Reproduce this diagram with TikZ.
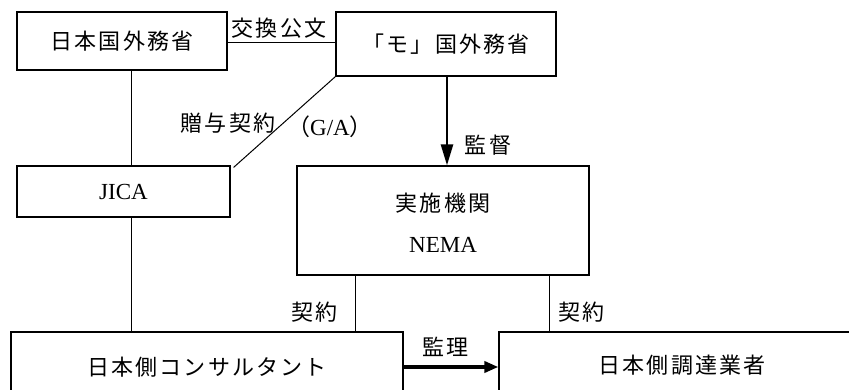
\documentclass[tikz,border=0pt]{standalone}
\usepackage{fontspec}
\setmainfont{Liberation Serif}
\newfontfamily\jp{Noto Sans CJK JP}[LetterSpace=10]
\usetikzlibrary{arrows.meta}
\begin{document}
\begin{tikzpicture}[x=1pt,y=-1pt,
  box/.style={draw, line width=1.2pt, inner sep=0pt, anchor=center},
  jt/.style={font=\jp\fontsize{22}{26}\selectfont, inner sep=0pt},
  lt/.style={font=\fontsize{23}{27}\selectfont, inner sep=0pt},
  conn/.style={line width=1pt},
  ]
\useasboundingbox (0,0) rectangle (849,390);

\node[box, jt, minimum width=210, minimum height=58] (mofaj) at (122,41) {日本国外務省};
\node[box, jt, minimum width=220, minimum height=64] (mofam) at (446,44) {「モ」国外務省};
\node[box, lt, minimum width=213, minimum height=51] (jica) at (123.5,191.5) {JICA};
\node[box, minimum width=292, minimum height=109] (nema) at (443,220.5) {};
\node[jt] (nemajp) at (443,203) {実施機関};
\node[lt] (nemaen) at (443,245) {NEMA};
\node[box, jt, minimum width=392, minimum height=70] (cons) at (207,367) {日本側コンサルタント};
\node[box, jt, minimum width=366, minimum height=66] (proc) at (682,365) {日本側調達業者};

\coordinate (xa) at (131,0);
\coordinate (xb) at (447,0);
\coordinate (xc) at (355,0);
\coordinate (xd) at (549,0);

\draw[conn] ([yshift=-2pt]mofaj.east) -- ([yshift=-2pt]mofaj.east -| mofam.west);
\draw[conn] (mofaj.south -| xa) -- (jica.north -| xa);
\draw[conn] (jica.south -| xa) -- (cons.north -| xa);
\draw[conn] (mofam.south west) -- ([xshift=3pt,yshift=-2pt]jica.north east);
\draw[line width=2.5pt, -{Triangle[length=21pt,width=12pt]}] (mofam.south -| xb) -- (nema.north -| xb);
\draw[conn] (nema.south -| xc) -- (cons.north -| xc);
\draw[conn] (nema.south -| xd) -- (proc.north -| xd);
\draw[line width=3.5pt, -{Triangle[length=14pt,width=11pt]}] (cons.east) -- (cons.east -| proc.west);

\node[jt] (lbl1) at (279,28) {交換公文};
\node[jt] (lbl2) at (488,145) {監督};
\node[jt] (lbl3) at (314.5,312) {契約};
\node[jt] (lbl4) at (581.5,312) {契約};
\node[jt] (lbl5) at (445.5,347) {監理};
\node[jt] (lbl6) at (228,123) {贈与契約};
\node[lt] (lbl7) at (330,127) {{\jp （}G/A{\jp ）}};
\end{tikzpicture}
\end{document}
